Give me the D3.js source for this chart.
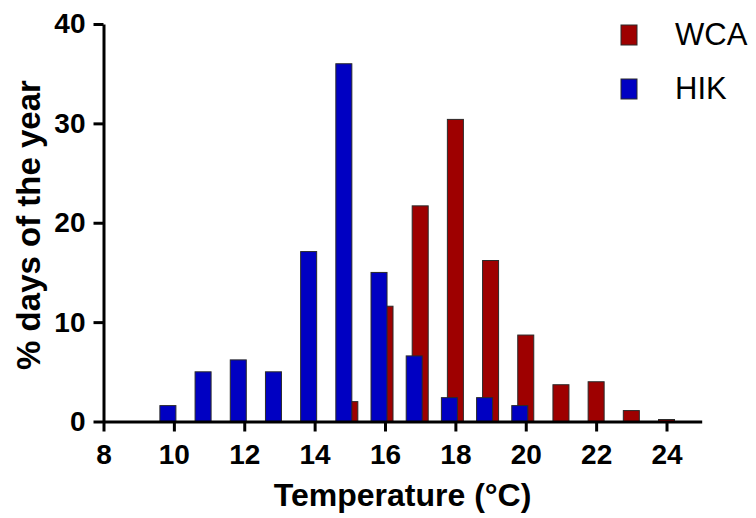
<!DOCTYPE html>
<html>
<head>
<meta charset="utf-8">
<script src="https://cdn.jsdelivr.net/npm/d3@7"></script>
<style>
  html, body { margin: 0; padding: 0; background: #fff; }
  svg { display: block; }
  text { font-family: "Liberation Sans", Arial, sans-serif; }
</style>
</head>
<body>
<div id="chart"></div>
<script>
// ---- data ----
const temperatures = [10, 11, 12, 13, 14, 15, 16, 17, 18, 19, 20, 21, 22, 23, 24];
const hikValues    = [1.6, 5.0, 6.2, 5.0, 17.1, 36.0, 15.0, 6.6, 2.4, 2.4, 1.6, 0, 0, 0, 0];
const wcaValues    = [0, 0, 0, 0, 0, 2.0, 11.6, 21.7, 30.4, 16.2, 8.7, 3.7, 4.0, 1.1, 0.2];
const xTickValues  = [8, 10, 12, 14, 16, 18, 20, 22, 24];
const yTickValues  = [0, 10, 20, 30, 40];
const seriesNames  = ["WCA", "HIK"];
const seriesColors = ["#9e0000", "#0000c2"];

const W = 756, H = 518;
const svg = d3.select("#chart").append("svg").attr("width", W).attr("height", H);

const x = d3.scaleLinear().domain([8, 25]).range([103.5, 701.7]);
const y = d3.scaleLinear().domain([0, 40]).range([421.5, 24]);

const barW = 0.455;        // in degrees
const hikOffset = -0.17;   // HIK bar centre relative to the temperature
const wcaOffset = 0.0;

function drawBars(values, offset, color) {
  const data = temperatures.map((t, i) => ({ t, v: values[i] })).filter(d => d.v > 0);
  svg.append("g").selectAll("rect").data(data).join("rect")
    .attr("x", d => x(d.t + offset - barW / 2))
    .attr("width", d => x(d.t + offset + barW / 2) - x(d.t + offset - barW / 2))
    .attr("y", d => y(d.v))
    .attr("height", d => y(0) - y(d.v))
    .attr("fill", color)
    .attr("stroke", "#2a2a2a")
    .attr("stroke-width", 1);
}
drawBars(wcaValues, wcaOffset, seriesColors[0]);
drawBars(hikValues, hikOffset, seriesColors[1]);

// axes
const xAxis = d3.axisBottom(x).tickValues(xTickValues).tickFormat(d3.format("d"))
  .tickSize(10).tickPadding(13).tickSizeOuter(0);
const yAxis = d3.axisLeft(y).tickValues(yTickValues).tickFormat(d3.format("d"))
  .tickSize(10).tickPadding(8).tickSizeOuter(0);

const gx = svg.append("g").attr("transform", `translate(0,${y(0)})`).call(xAxis);
const gy = svg.append("g").attr("transform", `translate(${x(8)},0)`).call(yAxis);

[gx, gy].forEach(g => {
  g.select(".domain").attr("stroke", "#000").attr("stroke-width", 3);
  g.selectAll(".tick line").attr("stroke", "#000").attr("stroke-width", 3);
  g.selectAll(".tick text")
    .attr("fill", "#000")
    .style("font-family", "'Liberation Sans', Arial, sans-serif")
    .style("font-size", "28px")
    .style("font-weight", "bold");
});

// axis titles
svg.append("text")
  .attr("x", (x.range()[0] + x.range()[1]) / 2)
  .attr("y", 506)
  .attr("text-anchor", "middle")
  .style("font-size", "32px")
  .style("font-weight", "bold")
  .text("Temperature (°C)");

svg.append("text")
  .attr("transform", "translate(40,225) rotate(-90)")
  .attr("text-anchor", "middle")
  .style("font-size", "33px")
  .style("font-weight", "bold")
  .text("% days of the year");

// legend
const legend = svg.append("g");
seriesNames.forEach((name, i) => {
  const yy = 25 + i * 54;
  legend.append("rect")
    .attr("x", 621).attr("y", yy).attr("width", 16).attr("height", 20)
    .attr("fill", seriesColors[i]).attr("stroke", "#2a2a2a").attr("stroke-width", 1);
  legend.append("text")
    .attr("x", 675).attr("y", yy + 20)
    .style("font-size", "31px")
    .attr("fill", "#000")
    .text(name);
});
</script>
</body>
</html>
